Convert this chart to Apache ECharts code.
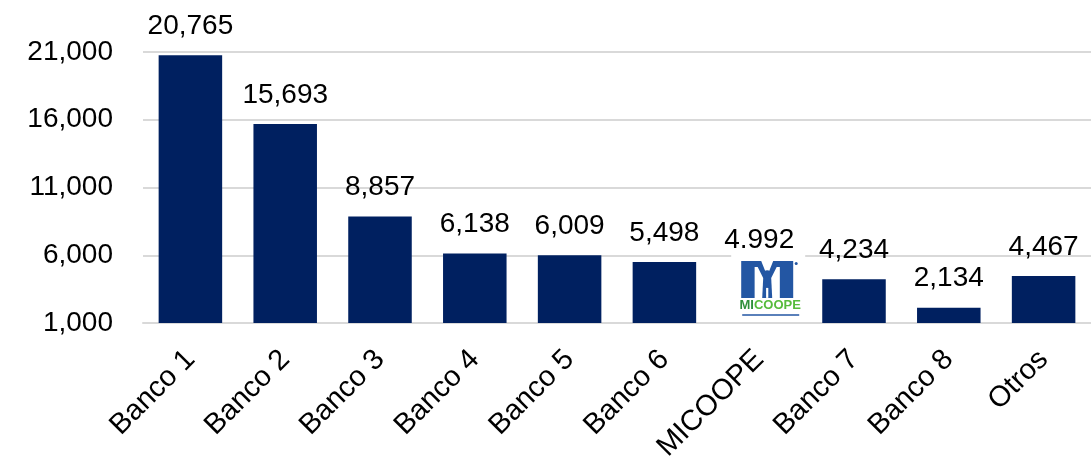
<!DOCTYPE html>
<html>
<head>
<meta charset="utf-8">
<script src="https://cdn.jsdelivr.net/npm/echarts@6/dist/echarts.min.js"></script>
<style>
  html, body { margin: 0; padding: 0; background: #fff; }
  #chart { width: 1091px; height: 462px; }
</style>
</head>
<body>
<div id="chart"></div>
<script>
var categories = ['Banco 1', 'Banco 2', 'Banco 3', 'Banco 4', 'Banco 5', 'Banco 6', 'MICOOPE', 'Banco 7', 'Banco 8', 'Otros'];
var values = [20765, 15693, 8857, 6138, 6009, 5498, 4992, 4234, 2134, 4467];
var valueLabels = ['20,765', '15,693', '8,857', '6,138', '6,009', '5,498', '4.992', '4,234', '2,134', '4,467'];
var yTicks = [1000, 6000, 11000, 16000, 21000];

var logoIdx = categories.indexOf('MICOOPE');
var fontName = '"Liberation Sans", Arial, sans-serif';
var navy = '#002060';
var logoBlue = '#2356a3';

var myChart = echarts.init(document.getElementById('chart'));

// draws the MICOOPE logo in place of its bar
function renderLogo(params, api) {
  var top = api.coord([api.value(0), api.value(1)]);
  var base = api.coord([api.value(0), yTicks[0]]);
  var cx = top[0] + 9;
  var boxTop = top[1] - 17;
  var ox = cx - 27, oy = boxTop + 9; // M origin, 52 x 37
  function p(pts) {
    return pts.map(function (q) { return [ox + q[0], oy + q[1]]; });
  }
  function mirror(pts) {
    return pts.map(function (q) { return [52 - q[0], q[1]]; });
  }
  var leftGap = [[13.4, 6], [16.5, 6], [22, 17], [21, 37], [13.4, 37]];
  var white = { fill: '#fff' };
  return {
    type: 'group',
    children: [
      { type: 'rect', shape: { x: cx - 37, y: boxTop, width: 74, height: base[1] - boxTop - 1 }, style: white },
      { type: 'rect', shape: { x: ox, y: oy, width: 52, height: 37 }, style: { fill: logoBlue } },
      { type: 'polygon', shape: { points: p(leftGap) }, style: white },
      { type: 'polygon', shape: { points: p(mirror(leftGap)) }, style: white },
      { type: 'polygon', shape: { points: p([[20, 0], [32, 0], [28, 10], [24, 10]]) }, style: white },
      { type: 'rect', shape: { x: ox + 24.9, y: oy + 27, width: 2.2, height: 10 }, style: white },
      { type: 'circle', shape: { cx: ox + 26, cy: oy + 13, r: 3.6 }, style: { fill: logoBlue } },
      { type: 'circle', shape: { cx: ox + 55, cy: oy + 2.5, r: 1.5 }, style: { fill: logoBlue } },
      {
        type: 'text',
        style: {
          x: cx + 2, y: oy + 51, align: 'center', verticalAlign: 'bottom',
          text: '{a|MI}{b|COOPE}',
          rich: {
            a: { fill: '#2f8f3a', font: 'bold 13px ' + fontName },
            b: { fill: '#57bb3c', font: 'bold 13px ' + fontName }
          }
        }
      },
      { type: 'line', shape: { x1: cx - 26, y1: oy + 54, x2: cx + 31, y2: oy + 54 }, style: { stroke: logoBlue, lineWidth: 1.5 } }
    ]
  };
}

myChart.setOption({
  animation: false,
  grid: {
    left: 143,
    right: 0,
    top: 52,
    bottom: 139,
    outerBoundsMode: 'none'
  },
  xAxis: {
    type: 'category',
    data: categories,
    axisLine: { lineStyle: { color: '#d9d9d9', width: 2 } },
    axisTick: { show: false },
    axisLabel: {
      rotate: 45,
      margin: 32,
      interval: 0,
      color: '#000',
      fontSize: 29,
      fontFamily: fontName
    }
  },
  yAxis: {
    type: 'value',
    min: yTicks[0],
    max: yTicks[yTicks.length - 1],
    interval: 5000,
    axisLine: { show: false },
    axisTick: { show: false, customValues: yTicks },
    splitLine: { lineStyle: { color: '#d9d9d9', width: 2 } },
    axisLabel: {
      customValues: yTicks,
      margin: 30,
      color: '#000',
      fontSize: 28,
      fontFamily: fontName,
      formatter: function (v) { return v.toLocaleString('en-US'); }
    }
  },
  series: [
    {
      type: 'bar',
      z: 3,
      barCategoryGap: '33%',
      data: values.map(function (v, i) {
        return i === logoIdx ? { value: v, itemStyle: { color: 'rgba(0,0,0,0)' } } : v;
      }),
      itemStyle: { color: navy },
      label: {
        show: true,
        position: 'top',
        distance: 15,
        color: '#000',
        fontSize: 28,
        fontFamily: fontName,
        formatter: function (p) { return valueLabels[p.dataIndex]; }
      }
    },
    {
      type: 'custom',
      z: 2,
      clip: false,
      renderItem: renderLogo,
      data: [[logoIdx, values[logoIdx]]]
    }
  ]
});
</script>
</body>
</html>
